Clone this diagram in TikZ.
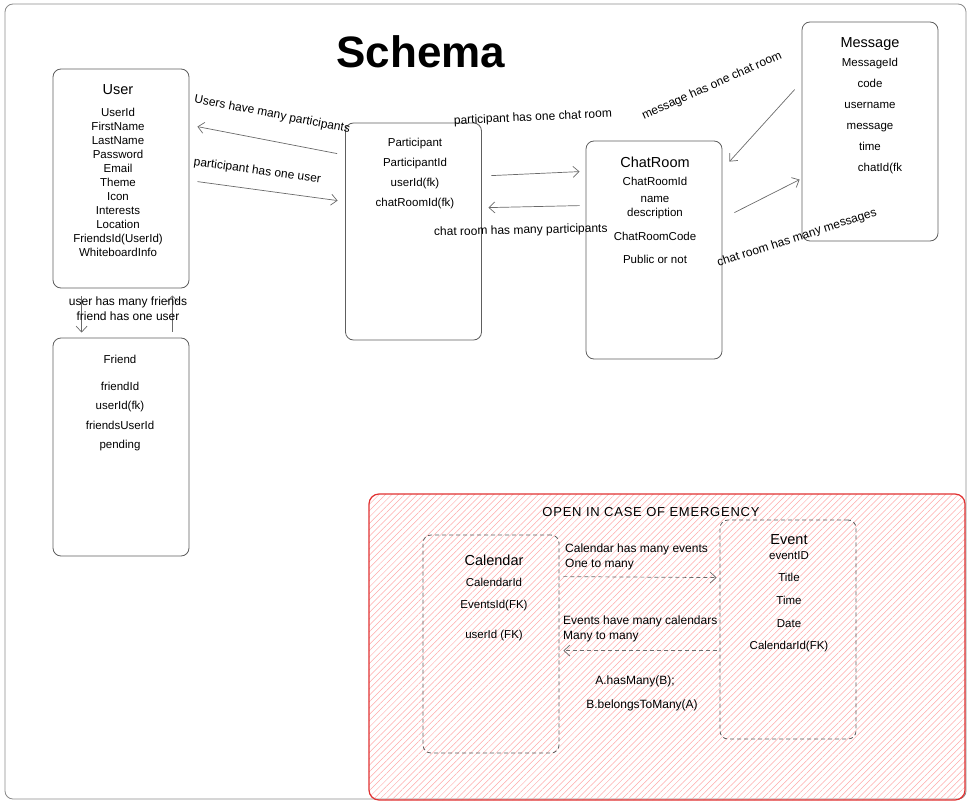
\documentclass[tikz,border=0pt]{standalone}
\usepackage{fontspec}
\setmainfont{Liberation Sans}
\usetikzlibrary{arrows.meta,patterns.meta}
\definecolor{inkgray}{HTML}{5E5E5E}
\definecolor{arrgray}{HTML}{6A6A6A}
\definecolor{framegray}{HTML}{8A8A8A}
\definecolor{emred}{HTML}{E03131}
\definecolor{hatchred}{HTML}{FFA8A8}
\newcommand{\tblname}[1]{{\fontsize{14.5}{14}\selectfont #1}}

\begin{document}
\begin{tikzpicture}[
x=1pt,y=1pt,
tbl/.style={draw=inkgray,line width=0.8pt,rounded corners=8pt,minimum width=136pt,minimum height=218pt,inner sep=0pt},
draft/.style={tbl,dash pattern=on 4pt off 3pt},
fields/.style={anchor=north,align=center,inner sep=0pt,font=\fontsize{11.5}{14}\selectfont},
rel/.style={draw=arrgray,line width=0.7pt,-{Straight Barb[length=6pt,width=11pt]}},
lbl/.style={inner sep=0pt,font=\fontsize{12}{15}\selectfont}
]
\useasboundingbox (0,0) rectangle (973,-810);
% frame and emergency area
\draw[framegray,line width=0.8pt,rounded corners=8pt] (5,-4) rectangle (966,-799);
\draw[emred,line width=1.2pt,rounded corners=10pt,pattern={Lines[angle=45,distance=4.5pt,line width=0.5pt]},pattern color=hatchred] (369,-494) rectangle (965,-800);
\node[font=\fontsize{44}{44}\selectfont\bfseries] (title) at (421,-52) {Schema};
\node[font=\fontsize{13}{14}\selectfont\addfontfeature{LetterSpace=6.0}] (emtitle) at (651,-512) {OPEN IN CASE OF EMERGENCY};

% tables
\node[tbl,minimum height=219pt] (user) at (121,-178.5) {};
\node[tbl] (friend) at (121,-447) {};
\node[tbl,minimum height=217pt] (part) at (413.5,-231.5) {};
\node[tbl] (chat) at (654,-250) {};
\node[tbl,minimum height=219pt] (msg) at (870,-131.5) {};
\node[draft] (cal) at (491,-644) {};
\node[draft,minimum height=219pt] (event) at (788,-629.5) {};

% fields
\node[fields] (userf) at (118,-84) {\tblname{User}\\[8pt]UserId\\FirstName\\LastName\\Password\\Email\\Theme\\Icon\\Interests\\Location\\FriendsId(UserId)\\WhiteboardInfo};
\node[fields,font=\fontsize{11.5}{19.3}\selectfont] (friendf) at (120,-355) {Friend\\[7.7pt]friendId\\userId(fk)\\friendsUserId\\pending};
\node[fields,font=\fontsize{11.5}{20}\selectfont] (partf) at (415,-138) {Participant\\ParticipantId\\userId(fk)\\chatRoomId(fk)};
\node[fields] (chatf) at (655,-157) {\tblname{ChatRoom}\\[4pt]ChatRoomId\\[3pt]name\\description\\[9.5pt]ChatRoomCode\\[9pt]Public or not};
\node[fields,font=\fontsize{11.5}{21}\selectfont] (msgf) at (870,-37) {\tblname{Message}\\[-2pt]MessageId\\code\\username\\message\\time\\\hspace*{20pt}chatId(fk};
\node[fields,font=\fontsize{11.5}{22}\selectfont] (calf) at (494,-555) {\tblname{Calendar}\\[-1pt]CalendarId\\EventsId(FK)\\[8pt]userId (FK)};
\node[fields,font=\fontsize{11.5}{22.7}\selectfont] (eventf) at (789,-534) {\tblname{Event}\\[-7.7pt]eventID\\Title\\Time\\Date\\CalendarId(FK)};

% relations
\draw[rel] ([shift={(-8,-31)}]part.north west) -- node[lbl,sloped,above=20pt] (l1) {Users have many participants} ([shift={(8,-58)}]user.north east);
\draw[rel] ([shift={(8,-113)}]user.north east) -- node[lbl,sloped,above=12.5pt,pos=0.41] (l2) {participant has one user} ([shift={(-7.5,-78)}]part.north west);
\draw[rel] ([shift={(9.5,-53)}]part.north east) -- node[lbl,sloped,above=50pt] (l3) {participant has one chat room} ([shift={(-6,-31)}]chat.north west);
\draw[rel] ([shift={(-6,-65)}]chat.north west) -- node[lbl,sloped,below=18pt,pos=0.65] (l4) {chat room has many participants} ([shift={(6.5,-85)}]part.north east);
\draw[rel] ([shift={(-7,-68)}]msg.north west) -- ([shift={(7,-21)}]chat.north east);
\node[lbl,rotate=24] (l5) at (712,-86) {message has one chat room};
\draw[rel] ([shift={(12,-72)}]chat.north east) -- ([shift={(-2,-158)}]msg.north west);
\node[lbl,rotate=18] (l6) at (797,-238) {chat room has many messages};
\draw[rel] ([shift={(29,-8)}]user.south west) -- ([shift={(29,5)}]friend.north west);
\draw[rel] ([shift={(-17,6)}]friend.north east) -- ([shift={(-17,-7)}]user.south east);
\node[lbl] (l7) at (128,-302) {user has many friends};
\node[lbl] (l8) at (128,-316) {friend has one user};
\draw[rel,dash pattern=on 4pt off 3pt] ([shift={(4,-42)}]cal.north east) -- ([shift={(-3,-58)}]event.north west);
\node[lbl,align=left,anchor=west] (l9) at (565,-556.5) {Calendar has many events\\One to many};
\draw[rel,dash pattern=on 4pt off 3pt] ([shift={(-3,-131)}]event.north west) -- ([shift={(4,-116)}]cal.north east);
\node[lbl,align=left,anchor=west] (l10) at (563,-628.5) {Events have many calendars\\Many to many};
\node[lbl] (l11) at (635,-681) {A.hasMany(B);};
\node[lbl] (l12) at (642,-705) {B.belongsToMany(A)};
\end{tikzpicture}
\end{document}
